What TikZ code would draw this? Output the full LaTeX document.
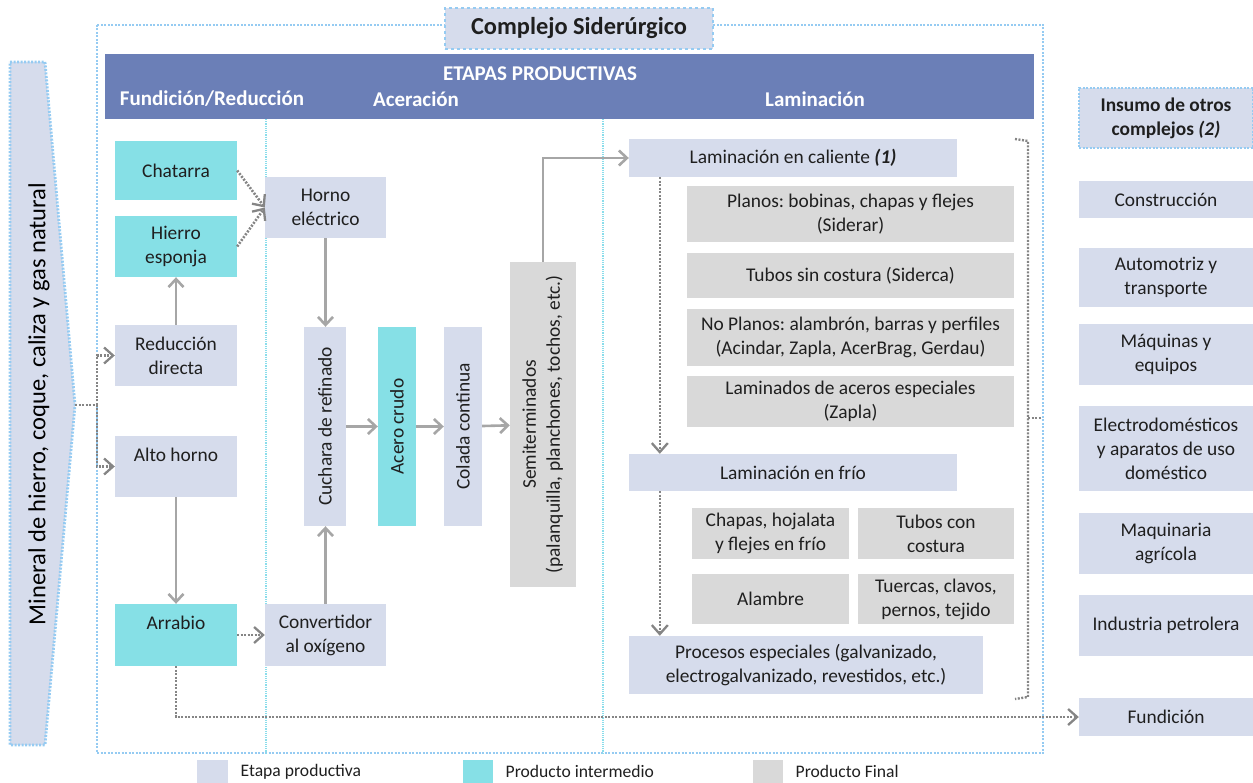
\documentclass[tikz,border=0pt]{standalone}
\usepackage{fontspec}
\setmainfont{Carlito}
\usetikzlibrary{arrows.meta, positioning}

\definecolor{etapacol}{HTML}{D6DCEC}
\definecolor{intercol}{HTML}{86E0E6}
\definecolor{finalcol}{HTML}{D9D9D9}
\definecolor{headcol}{HTML}{6B7FB7}
\definecolor{arrowgray}{HTML}{A6A6A6}
\definecolor{dotgray}{HTML}{858585}
\definecolor{frameblue}{HTML}{95CBF2}
\definecolor{colcyan}{HTML}{8ADDEB}

\tikzset{wh/.style 2 args = {minimum width=#1pt, minimum height=#2pt}}

\begin{document}
\begin{tikzpicture}[x=1pt, y=-1pt, font=\fontsize{19.4}{24}\selectfont\frenchspacing]

\tikzset{box/.style = {rectangle, inner sep=2pt, align=center, text=black!88}}
\tikzset{etapa/.style = {box, fill=etapacol}}
\tikzset{inter/.style = {box, fill=intercol}}
\tikzset{final/.style = {box, fill=finalcol}}
\tikzset{flow/.style = {->, > = {Straight Barb[length=8pt, width=15pt]}, draw=arrowgray, line width=2.6pt}}
\tikzset{dotline/.style = {draw=dotgray, line width=2.6pt, dash pattern=on 2pt off 1.5pt}}
\tikzset{dotflow/.style = {dotline, ->, > = {Straight Barb[length=9pt, width=16pt, line width=2.3pt]}}}
\tikzset{blueframe/.style = {draw=frameblue, line width=2.8pt, dash pattern=on 2pt off 1.5pt}}
\tikzset{headtext/.style = {text=white, font=\fontsize{21}{24}\selectfont\bfseries}}
\tikzset{legtext/.style = {font=\fontsize{17.6}{20}\selectfont, text=black!88}}

\useasboundingbox (0,0) rectangle (1253,783);

%frame and header
\draw[blueframe] (97,25) rectangle (1043,753);
\draw[colcyan, line width=1.2pt, dash pattern=on 1.2pt off 1pt] (266,119) -- (266,753);
\draw[colcyan, line width=1.2pt, dash pattern=on 1.2pt off 1pt] (603,119) -- (603,753);
\node[etapa, wh={268}{41}, draw=frameblue, line width=1.6pt, dashed,
      font=\fontsize{24.4}{28}\selectfont\bfseries] (complejo) at (579,28.5) {Complejo Siderúrgico};
\node[rectangle, fill=headcol, wh={929}{65}] (etapas) at (569.5,86.5) {};
\node[headtext] (etapastxt) at (540,74) {ETAPAS PRODUCTIVAS};
\node[headtext] (fundred) at (212,99) {Fundición/Reducción};
\node[headtext] (aceracion) at (416,99) {Aceración};
\node[headtext] (laminacion) at (815,99) {Laminación};

%insumos
\draw[blueframe, fill=etapacol] (10,62) -- (45,62) -- (75,405) -- (45,745) -- (10,745) -- cycle;
\node[font=\fontsize{24.5}{28}\selectfont, text=black] (mineral) at (39,404)
      {\rotatebox{90}{Mineral de hierro, coque, caliza y gas natural}};
\coordinate (mintip) at (75,405);
\coordinate (branch) at (97,405);

%fundicion / reduccion
\node[inter, wh={122}{59}] (chatarra) at (176,170.5) {Chatarra};
\node[inter, wh={122}{61}] (hierro) at (176,246.5) {Hierro\\esponja};
\node[etapa, wh={122}{61}] (reduccion) at (176,355.5) {Reducción\\directa};
\node[etapa, wh={122}{61}] (alto) at (176,466.5) {Alto horno\\~};
\node[inter, wh={122}{62}] (arrabio) at (176,635) {Arrabio\\~};

%aceracion
\node[etapa, wh={121}{61}] (horno) at (325.5,207.5) {Horno\\eléctrico};
\node[etapa, wh={121}{62}] (convertidor) at (325.5,635) {Convertidor\\al oxígeno};
\node[etapa, wh={42}{199}] (cuchara) at (325,426.5) {\rotatebox{90}{Cuchara de refinado}};
\node[inter, wh={38}{199}] (acero) at (397,426.5) {\rotatebox{90}{Acero crudo}};
\node[etapa, wh={38}{199}] (colada) at (463,426.5) {\rotatebox{90}{Colada continua}};
\node[final, wh={66}{325}] (semi) at (543,424.5)
      {\rotatebox{90}{\begin{tabular}{@{}c@{}}Semiterminados\\(palanquilla, planchones, tochos, etc.)\end{tabular}}};

%laminacion
\node[etapa, wh={328}{38}] (lamcal) at (793,158) {Laminación en caliente \textbf{\textit{(1)}}};
\node[final, wh={327}{56}] (planos) at (850.5,214) {Planos: bobinas, chapas y flejes\\(Siderar)};
\node[final, wh={327}{45}] (tubossin) at (850.5,275.5) {Tubos sin costura (Siderca)};
\node[final, wh={327}{57}] (noplanos) at (850.5,337.5) {No Planos: alambrón, barras y perfiles\\(Acindar, Zapla, AcerBrag, Gerdau)};
\node[final, wh={327}{51}] (especiales) at (850.5,401.5) {Laminados de aceros especiales\\(Zapla)};
\node[etapa, wh={328}{37}] (lamfrio) at (793,472.5) {Laminación en frío};
\node[final, wh={157}{51}] (chapas) at (770.5,533.5) {Chapas, hojalata\\y flejes en frío};
\node[final, wh={156}{51}] (tuboscon) at (936,533.5) {Tubos con\\costura};
\node[final, wh={157}{50}] (alambre) at (770.5,599) {Alambre};
\node[final, wh={156}{50}] (tuercas) at (936,599) {Tuercas, clavos,\\pernos, tejido};
\node[etapa, wh={354}{58}] (procesos) at (806,665) {Procesos especiales (galvanizado,\\electrogalvanizado, revestidos, etc.)};

%otros complejos
\node[etapa, wh={174}{60}, blueframe, font=\fontsize{19.4}{24}\selectfont\bfseries] (insumo) at (1166,118)
      {Insumo de otros\\complejos \textit{(2)}};
\node[etapa, wh={174}{37}] (construccion) at (1166,199.5) {Construcción};
\node[etapa, wh={174}{59}] (automotriz) at (1166,277.5) {Automotriz y\\transporte};
\node[etapa, wh={174}{61}] (maquinas) at (1166,354.5) {Máquinas y\\equipos};
\node[etapa, wh={174}{85}] (electro) at (1166,448.5) {Electrodomésticos\\y aparatos de uso\\doméstico};
\node[etapa, wh={174}{61}] (agricola) at (1166,543.5) {Maquinaria\\agrícola};
\node[etapa, wh={174}{61}] (petrolera) at (1166,625.5) {Industria petrolera};
\node[etapa, wh={174}{38}] (fundicion) at (1166,717) {Fundición};

%edges
\draw[dotline] (mintip) -- (branch);
\draw[dotflow] (branch) |- (reduccion);
\draw[dotflow] (branch) |- (alto);
\draw[flow] (reduccion) -- (hierro);
\draw[flow] (alto) -- (arrabio);
\draw[dotflow] (chatarra.east) -- (horno.west);
\draw[dotflow] (hierro.east) -- (horno.west);
\draw[dotflow] (arrabio) -- (convertidor);
\draw[dotflow] (arrabio.south) |- (fundicion.west);
\draw[flow] (horno.south) -- (horno.south |- cuchara.north);
\draw[flow] (convertidor.north) -- (convertidor.north |- cuchara.south);
\draw[flow] (cuchara) -- (acero);
\draw[flow] (acero) -- (colada);
\draw[flow] (colada) -- (semi);
\draw[flow] (semi.north) |- (lamcal.west);
\draw[dotflow] ([xshift=31pt]lamcal.south west) -- ([xshift=31pt]lamfrio.north west);
\draw[dotflow] ([xshift=31pt]lamfrio.south west) -- ([xshift=31pt]procesos.north west);
%bracket
\draw[dotline, line width=2.4pt] (1015,139) -- (1028,141) -- (1028,697) -- (1015,699);
\draw[dotline, line width=2.4pt] (1028,418) -- (1042,418);

%legend
\node[rectangle, fill=etapacol, wh={31}{23}] (leg1) at (212.5,771.5) {};
\node[legtext, right=9pt of leg1] (leg1txt) {Etapa productiva};
\node[rectangle, fill=intercol, wh={30}{23}] (leg2) at (478,771.5) {};
\node[legtext, right=9pt of leg2] (leg2txt) {Producto intermedio};
\node[rectangle, fill=finalcol, wh={30}{23}] (leg3) at (768,771.5) {};
\node[legtext, right=9pt of leg3] (leg3txt) {Producto Final};

\end{tikzpicture}
\end{document}
